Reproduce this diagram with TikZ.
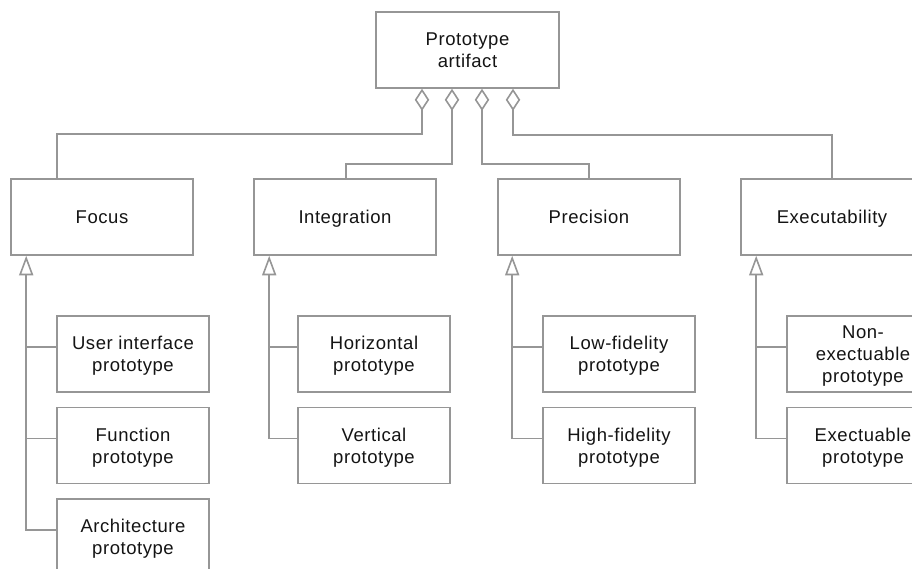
\documentclass[tikz,border=0pt]{standalone}
\usepackage{fontspec}
\setmainfont{Liberation Sans}[LetterSpace=3]
\usetikzlibrary{arrows.meta}

\definecolor{linegray}{RGB}{150,150,150}
\definecolor{textdark}{RGB}{20,20,20}

\tikzset{
  box/.style={draw=linegray, line width=1.6pt, align=center, inner sep=0pt,
              text=textdark, text depth=0pt,
              font=\fontsize{18.5}{22}\selectfont},
  topbox/.style={box, minimum width=183pt, minimum height=76pt},
  catbox/.style={box, minimum width=182pt, minimum height=76pt},
  kindbox/.style={box, minimum width=152pt, minimum height=76pt},
  link/.style={draw=linegray, line width=1.6pt},
  agg/.style={link, {Diamond[open, length=22pt, width=14.5pt]}-},
  gen/.style={link, -{Triangle[open, length=19.5pt, width=14pt]}},
}

\begin{document}
\begin{tikzpicture}[x=1pt, y=-1pt]
  \useasboundingbox (0,0) rectangle (912,569);
  \clip (0,0) rectangle (912,569);
  \fill[white] (0,0) rectangle (912,569);

  % whole and its four aspects
  \node[topbox] (top) at (467.5,50) {Prototype\\artifact};
  \node[catbox] (focus) at (102,217) {Focus};
  \node[catbox] (integ) at (345,217) {Integration};
  \node[catbox] (prec)  at (589,217) {Precision};
  \node[catbox] (exec)  at (832,217) {Executability};

  % kinds of prototype under each aspect
  \node[kindbox] (ui)    at (133,354)   {User interface\\prototype};
  \node[kindbox] (fn)    at (133,445.5) {Function\\prototype};
  \node[kindbox] (arch)  at (133,537)   {Architecture\\prototype};
  \node[kindbox] (horiz) at (374,354)   {Horizontal\\prototype};
  \node[kindbox] (vert)  at (374,445.5) {Vertical\\prototype};
  \node[kindbox] (low)   at (619,354)   {Low-fidelity\\prototype};
  \node[kindbox] (high)  at (619,445.5) {High-fidelity\\prototype};
  \node[kindbox] (nonex) at (863,354)   {Non-\\exectuable\\prototype};
  \node[kindbox] (ex)    at (863,445.5) {Exectuable\\prototype};

  % aggregation links
  \draw[agg] ([xshift=-45.5pt]top.south) -- ++(0,45) -| ([xshift=-45pt]focus.north);
  \draw[agg] ([xshift=-15.5pt]top.south) -- ++(0,75) -| ([xshift=1pt]integ.north);
  \draw[agg] ([xshift=14.5pt]top.south)  -- ++(0,75) -| (prec.north);
  \draw[agg] ([xshift=45.5pt]top.south)  -- ++(0,46) -| (exec.north);

  % generalisation trunks and their attachment points
  \coordinate (fa) at ([xshift=16pt]focus.south west);
  \coordinate (ia) at ([xshift=16pt]integ.south west);
  \coordinate (pa) at ([xshift=15pt]prec.south west);
  \coordinate (ea) at ([xshift=16pt]exec.south west);
  \foreach \k in {ui,fn,arch,horiz,vert,low,high,nonex,ex}
    \coordinate (\k-in) at ([yshift=7pt]\k.west);

  \draw[gen] (arch-in) -| (fa);
  \draw[link] (ui-in) -- (fa |- ui-in);
  \draw[link] (fn-in) -- (fa |- fn-in);

  \draw[gen] (vert-in) -| (ia);
  \draw[link] (horiz-in) -- (ia |- horiz-in);

  \draw[gen] (high-in) -| (pa);
  \draw[link] (low-in) -- (pa |- low-in);

  \draw[gen] (ex-in) -| (ea);
  \draw[link] (nonex-in) -- (ea |- nonex-in);
\end{tikzpicture}
\end{document}
